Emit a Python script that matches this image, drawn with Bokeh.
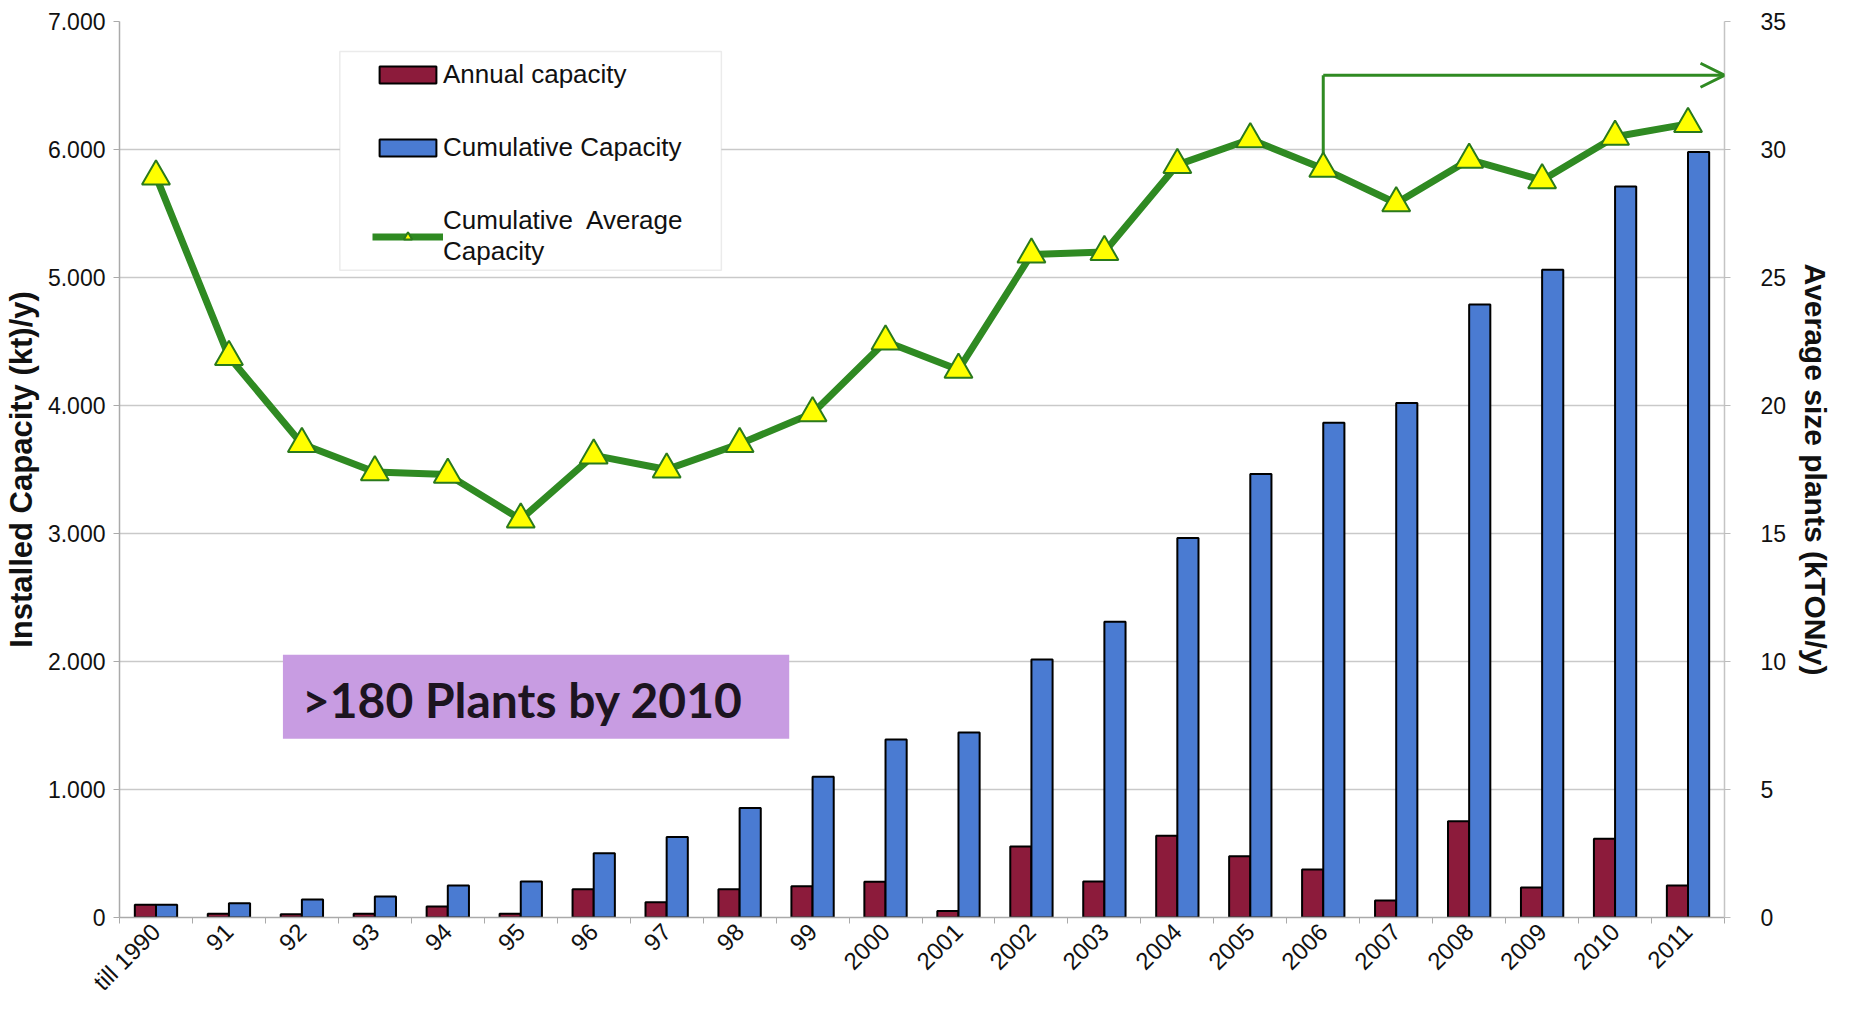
import math
from bokeh.plotting import figure
from bokeh.models import (Range1d, LinearAxis, FixedTicker, Legend, LegendItem,
                          BoxAnnotation, Arrow, OpenHead, Label)
from bokeh.embed import file_html
from bokeh.resources import INLINE

# ---------------- data ----------------
categories = ["till 1990", "91", "92", "93", "94", "95", "96", "97", "98", "99",
              "2000", "2001", "2002", "2003", "2004", "2005", "2006", "2007",
              "2008", "2009", "2010", "2011"]
annual_capacity = [100, 30, 25, 30, 85, 30, 220, 120, 220, 245, 280, 50,
                   555, 282, 638, 478, 375, 132, 752, 235, 615, 250]
cumulative_capacity = [100, 112, 140, 165, 250, 282, 502, 628, 855, 1100, 1390, 1445,
                       2015, 2310, 2965, 3465, 3865, 4020, 4790, 5060, 5710, 5980]
average_size = [28.95, 21.9, 18.5, 17.4, 17.3, 15.55, 18.05, 17.5, 18.5, 19.7, 22.5, 21.4,
                25.9, 26.0, 29.4, 30.4, 29.25, 27.9, 29.6, 28.8, 30.5, 31.0]
left_ticks = [0, 1000, 2000, 3000, 4000, 5000, 6000, 7000]
left_tick_labels = ["0", "1.000", "2.000", "3.000", "4.000", "5.000", "6.000", "7.000"]
right_ticks = [0, 5, 10, 15, 20, 25, 30, 35]
arrow_start_category = "2006"
arrow_level = 32.9
note_text = ">180 Plants by 2010"

# ---------------- styling ----------------
RED = "#8C1B3B"
BLUE = "#4A7BD2"
GREEN = "#2F8A22"
YELLOW = "#FFFF00"
GRID = "#c9c9c9"
FONT = "Liberation Sans"

n = len(categories)
centers = [i + 1 for i in range(n)]
red_x = [c - 0.145 for c in centers]
blue_x = [c + 0.145 for c in centers]

p = figure(width=1835, height=1008, output_backend="svg", toolbar_location=None,
           x_range=Range1d(0.5, n + 0.5), y_range=Range1d(0, 7000),
           min_border_left=118, min_border_right=106, min_border_top=21,
           min_border_bottom=90)
p.extra_y_ranges = {"avg": Range1d(0, 35)}
p.outline_line_color = None
p.background_fill_color = "white"

# grid
p.xgrid.visible = False
p.ygrid.ticker = FixedTicker(ticks=left_ticks)
p.ygrid.grid_line_color = GRID
p.ygrid.grid_line_width = 1.5

# x axis
xa = p.xaxis[0]
xa.ticker = FixedTicker(ticks=centers, minor_ticks=[c + 0.5 for c in [0] + centers])
xa.major_label_overrides = {c: lab for c, lab in zip(centers, categories)}
xa.major_label_orientation = math.pi / 4
xa.major_label_text_font = FONT
xa.major_label_text_font_size = "24px"
xa.major_label_text_color = "#111111"
xa.major_tick_line_color = None
xa.major_tick_out = 0
xa.minor_tick_out = 6
xa.minor_tick_in = 0
xa.minor_tick_line_color = "#aaaaaa"
xa.axis_line_color = "#aaaaaa"
xa.axis_line_width = 1.5
xa.major_label_standoff = 4

# left axis
ya = p.yaxis[0]
ya.ticker = FixedTicker(ticks=left_ticks)
ya.major_label_overrides = {t: l for t, l in zip(left_ticks, left_tick_labels)}
ya.major_label_text_font = FONT
ya.major_label_text_font_size = "23px"
ya.major_label_text_color = "#111111"
ya.major_tick_out = 6
ya.major_tick_in = 0
ya.major_tick_line_color = "#aaaaaa"
ya.minor_tick_line_color = None
ya.axis_line_color = "#aaaaaa"
ya.axis_line_width = 1.5
ya.major_label_standoff = 8
ya.axis_label = "Installed Capacity (kt)/y)"
ya.axis_label_text_font = FONT
ya.axis_label_text_font_style = "bold"
ya.axis_label_text_font_size = "31px"
ya.axis_label_text_color = "#111111"
ya.axis_label_standoff = 6

# right axis
ra = LinearAxis(y_range_name="avg", ticker=FixedTicker(ticks=right_ticks))
ra.major_label_text_font = FONT
ra.major_label_text_font_size = "23px"
ra.major_label_text_color = "#111111"
ra.major_tick_out = 6
ra.major_tick_in = 0
ra.major_tick_line_color = "#bbbbbb"
ra.minor_tick_line_color = None
ra.axis_line_color = "#c4c4c4"
ra.axis_line_width = 1.5
ra.major_label_standoff = 30
ra.axis_label = "Average size plants (kTON/y)"
ra.axis_label_text_font = FONT
ra.axis_label_text_font_style = "bold"
ra.axis_label_text_font_size = "30px"
ra.axis_label_text_color = "#111111"
ra.axis_label_standoff = 10
p.add_layout(ra, "right")

# bars
red = p.vbar(x=red_x, top=annual_capacity, bottom=0, width=0.29,
             fill_color=RED, line_color="black", line_width=2)
blue = p.vbar(x=blue_x, top=cumulative_capacity, bottom=0, width=0.29,
              fill_color=BLUE, line_color="black", line_width=2)

# arrow from the 2006 point
ai = categories.index(arrow_start_category)
p.segment(x0=[centers[ai]], y0=[average_size[ai]], x1=[centers[ai]], y1=[arrow_level],
          y_range_name="avg", line_color=GREEN, line_width=3)
p.add_layout(Arrow(end=OpenHead(size=24, line_color=GREEN, line_width=3),
                   x_start=centers[ai], y_start=arrow_level,
                   x_end=n + 0.5, y_end=arrow_level, y_range_name="avg",
                   line_color=GREEN, line_width=3))

# average line
ln = p.line(x=centers, y=average_size, y_range_name="avg", line_color=GREEN,
            line_width=7, line_join="round")
mk = p.scatter(x=centers, y=average_size, y_range_name="avg", marker="triangle",
               size=28, fill_color=YELLOW, line_color="#2a7a1c", line_width=2)

# note box
p.add_layout(BoxAnnotation(left=2.74, right=9.68, bottom=1397, top=2052,
                           fill_color="#C89CE2", fill_alpha=1.0, line_color=None,
                           level="underlay"))
p.add_layout(Label(x=3.0, y=1705, text=note_text, text_font="Lato",
                   text_font_style="bold", text_font_size="48px",
                   text_color="#1c1420", text_baseline="middle"))

# legend frame
p.add_layout(BoxAnnotation(left=3.52, right=8.75, bottom=5057, top=6766,
                           fill_color="white", fill_alpha=1.0,
                           line_color="#bdbdbd", line_width=1.5))
legend = Legend(items=[
    LegendItem(label="Annual capacity", renderers=[red]),
    LegendItem(label="Cumulative Capacity", renderers=[blue]),
    LegendItem(label="Cumulative  Average\nCapacity", renderers=[ln, mk]),
], location=(253, 650), padding=0, margin=0, spacing=42,
    glyph_width=71, glyph_height=21, label_height=30, label_standoff=0,
    label_text_font=FONT, label_text_font_size="26px", label_text_color="#111111",
    background_fill_alpha=0, border_line_color=None)
p.add_layout(legend)

open("out.html", "w").write(file_html(p, INLINE))
